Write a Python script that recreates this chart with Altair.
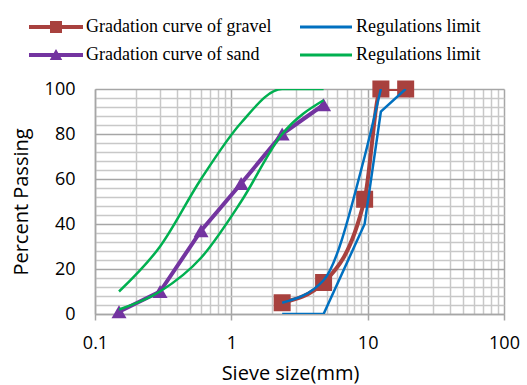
import altair as alt
import pandas as pd

# ---- data ----
sand_sieve = [0.15, 0.3, 0.6, 1.18, 2.36, 4.75]
sand_pass = [1, 10, 37, 58, 80, 93]

gravel_sieve = [2.36, 4.75, 9.5, 12.5, 19]
gravel_pass = [5, 14, 51, 100, 100]

sand_lim_sieve = [0.15, 0.3, 0.6, 1.18, 2.36, 4.75]
sand_lim_upper = [10, 30, 60, 85, 100, 100]
sand_lim_lower = [2, 10, 25, 50, 80, 95]

gravel_up_sieve = [2.36, 4.75, 9.5, 12.5]
gravel_up = [5, 15, 70, 100]
gravel_lo_sieve = [2.36, 4.75, 9.5, 12.5, 19]
gravel_lo = [0, 0, 40, 90, 100]

legend_keys = ["1 Gradation curve of gravel", "2 Gradation curve of sand",
               "3 Regulations limit", "4 Regulations limit"]

RED, BLUE, PURPLE, GREEN = "#A8413E", "#0070C0", "#7334A0", "#00B050"

sand_df = pd.DataFrame({"sieve": sand_sieve, "pass": sand_pass})
gravel_df = pd.DataFrame({"sieve": gravel_sieve, "pass": gravel_pass})
green_df = pd.concat([
    pd.DataFrame({"sieve": sand_lim_sieve, "pass": sand_lim_upper, "bound": "upper"}),
    pd.DataFrame({"sieve": sand_lim_sieve, "pass": sand_lim_lower, "bound": "lower"}),
])
blue_up_df = pd.DataFrame({"sieve": gravel_up_sieve, "pass": gravel_up})
blue_lo_df = pd.DataFrame({"sieve": gravel_lo_sieve, "pass": gravel_lo})
legend_df = pd.DataFrame({"series": legend_keys, "sieve": [1] * 4, "pass": [50] * 4})

x_ticks = [m * 10 ** e for e in (-1, 0, 1) for m in range(1, 10)] + [100]
y_ticks = list(range(0, 101, 4))

decade = "abs(log(datum.value)/LN10 - round(log(datum.value)/LN10)) < 0.001"
major_y = "datum.value % 20 == 0"

x_axis = alt.Axis(
    values=x_ticks, format="~g", labelOverlap=False, labelFlush=False,
    labelExpr=f"{decade} ? datum.label : ''",
    gridColor={"condition": {"test": decade, "value": "#A6A6A6"}, "value": "#C8C8C8"},
    tickSize={"condition": {"test": decade, "value": 6}, "value": 0},
    tickColor="#A6A6A6", tickWidth=1.5, gridWidth=1.5,
    domainColor="#A6A6A6", domainWidth=1.5,
    labelPadding=14, titlePadding=11, titleX=195,
)
y_axis = alt.Axis(
    values=y_ticks, labelOverlap=False,
    labelExpr=f"{major_y} ? datum.label : ''",
    gridColor={"condition": {"test": major_y, "value": "#A6A6A6"}, "value": "#C8C8C8"},
    gridWidth=1.5, ticks=False, labelPadding=20, titlePadding=13,
    domainColor="#A6A6A6", domainWidth=1.5,
)

X = alt.X("sieve:Q", title="Sieve size(mm)",
          scale=alt.Scale(type="log", domain=[0.1, 100], nice=False), axis=x_axis)
Y = alt.Y("pass:Q", title="Percent Passing",
          scale=alt.Scale(domain=[0, 100], nice=False, zero=False), axis=y_axis)

gravel_line = alt.Chart(gravel_df).mark_line(
    color=RED, strokeWidth=4, interpolate="monotone", clip=True).encode(x=X, y=Y)
gravel_pts = alt.Chart(gravel_df).mark_point(
    shape="square", filled=True, size=289, color=RED, opacity=1).encode(x=X, y=Y)
blue_up = alt.Chart(blue_up_df).mark_line(
    color=BLUE, strokeWidth=2.5, interpolate="monotone", clip=True).encode(x=X, y=Y)
blue_lo = alt.Chart(blue_lo_df).mark_line(
    color=BLUE, strokeWidth=2.5, clip=True).encode(x=X, y=Y)
sand_line = alt.Chart(sand_df).mark_line(
    color=PURPLE, strokeWidth=4, clip=True).encode(x=X, y=Y)
sand_pts = alt.Chart(sand_df).mark_point(
    shape="triangle-up", filled=True, size=225, color=PURPLE, opacity=1).encode(x=X, y=Y)
green_lines = alt.Chart(green_df).mark_line(
    color=GREEN, strokeWidth=2.5, interpolate="monotone", clip=True).encode(
    x=X, y=Y, detail="bound:N")

# legend glyphs: line with marker (units scaled by sqrt(symbolSize)/2 = 5 px)
sym_red = "M-6,-0.4H4.8V0.4H-6Z M-1.8,-1.2H0.6V1.2H-1.8Z"
sym_purple = "M-6,-0.4H4.8V0.4H-6Z M-0.6,-1.2L0.65,1.0H-1.85Z"
sym_blue = "M-5.8,-0.3H4.6V0.3H-5.8Z"
sym_green = "M-5.8,-0.3H4.6V0.3H-5.8Z"

legend = alt.Legend(
    orient="none", legendX=-67, legendY=-71, columns=2, title=None,
    symbolSize=100, symbolStrokeWidth=0, symbolOffset=22, labelOffset=18,
    labelFont="Liberation Serif", labelFontSize=18, labelColor="#000000",
    columnPadding=26, rowPadding=10, padding=0, labelLimit=400,
    labelExpr="substring(datum.label, 2)",
)
legend_layer = alt.Chart(legend_df).mark_point(filled=True, opacity=1).encode(
    x=X, y=Y,
    color=alt.Color("series:N", scale=alt.Scale(domain=legend_keys,
                    range=[RED, PURPLE, BLUE, GREEN]), legend=legend),
    shape=alt.Shape("series:N", scale=alt.Scale(domain=legend_keys,
                    range=[sym_red, sym_purple, sym_blue, sym_green]), legend=legend),
).transform_filter("false")

chart = alt.layer(
    gravel_line, gravel_pts, blue_up, blue_lo, sand_line, sand_pts, green_lines, legend_layer
).properties(
    width=409, height=225,
    padding={"left": 95, "top": 89, "right": 23, "bottom": 71},
    autosize=alt.AutoSizeParams(type="none"),
).configure(background="white").configure_view(stroke=None).configure_axis(
    labelFont="Open Sans", labelFontSize=18, labelColor="#000000",
    titleFont="Open Sans", titleFontSize=20, titleColor="#000000", titleFontWeight="normal",
)

chart.save("out.html", embed_options={"renderer": "svg", "actions": False})
